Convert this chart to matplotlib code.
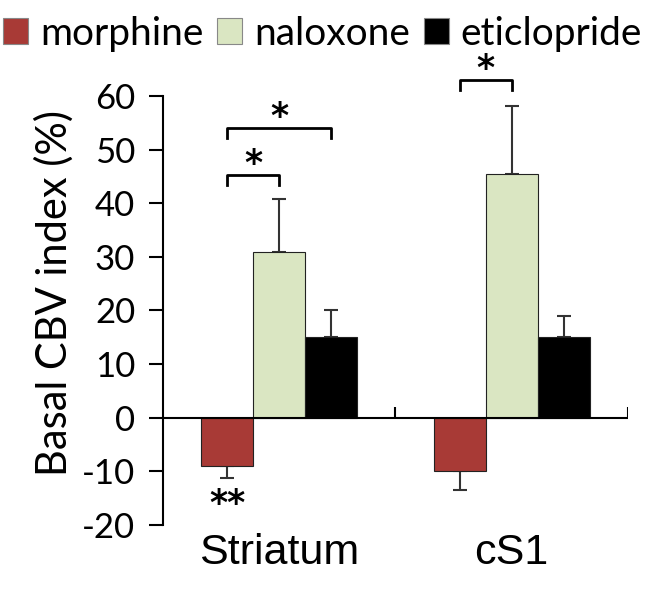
import matplotlib
matplotlib.use("Agg")
import matplotlib.pyplot as plt
from matplotlib.patches import Patch
import numpy as np

regions = ["Striatum", "cS1"]
series = ["morphine", "naloxone", "eticlopride"]
colors = ["#A83A36", "#DAE6C2", "#000000"]
values = {
    "morphine": [-9.0, -10.0],
    "naloxone": [31.0, 45.5],
    "eticlopride": [15.0, 15.0],
}
errors = {
    "morphine": [2.2, 3.5],
    "naloxone": [9.8, 12.7],
    "eticlopride": [5.0, 4.0],
}
yticks = [-20, -10, 0, 10, 20, 30, 40, 50, 60]

fig = plt.figure(figsize=(6.45, 5.89), dpi=100)
ax = fig.add_axes([0.2527, 0.1087, 0.9736 - 0.2527, 0.898 - 0.1087])
ax.set_xlim(0, 2)
ax.set_ylim(-20, 66.7)

centers = np.array([0.5, 1.5])
w = 0.224
offsets = [-w, 0, w]
for s, c, off in zip(series, colors, offsets):
    vals = np.array(values[s])
    errs = np.array(errors[s])
    ax.bar(centers + off, vals, width=w, color=c, edgecolor="#222222", linewidth=0.8, zorder=3)
    lower = np.where(vals < 0, errs, 0)
    upper = np.where(vals > 0, errs, 0)
    ax.errorbar(centers + off, vals, yerr=[lower, upper], fmt="none", ecolor="#333333",
                elinewidth=1.5, capsize=5, capthick=1.5, zorder=2)

# zero line with group separators
ax.axhline(0, color="black", lw=1.5, zorder=4)
ax.vlines([1, 2], 0, 2.0, color="black", lw=1.5, zorder=4)

for sp in ["top", "right", "bottom"]:
    ax.spines[sp].set_visible(False)
ax.spines["left"].set_bounds(-20, 60)
ax.spines["left"].set_linewidth(1.5)
ax.set_yticks(yticks)
ax.set_yticklabels([str(t) for t in yticks], fontfamily="Lato", fontsize=25)
ax.tick_params(axis="y", direction="out", length=10, width=1.5, pad=10)
ax.set_xticks(centers)
ax.set_xticklabels(regions, fontfamily="Liberation Sans", fontsize=31)
ax.tick_params(axis="x", length=0, pad=6)
ax.set_ylabel("Basal CBV index (%)", fontfamily="Lato", fontsize=30, labelpad=6)

def bracket(x1, x2, y, h, text):
    ax.plot([x1, x1, x2, x2], [y - h, y, y, y - h], color="black", lw=2, clip_on=False, zorder=5)
    ax.text((x1 + x2) / 2, y - 1.1, text, ha="center", va="bottom", fontsize=25,
            fontweight="bold", fontfamily="DejaVu Sans", clip_on=False)

x_m = centers - w
x_n = centers
x_e = centers + w
bracket(x_m[0], x_n[0], 45.3, 1.9, "*")
bracket(x_m[0], x_e[0], 54.0, 1.9, "*")
bracket(x_m[1], x_n[1], 63.0, 1.9, "*")
ax.text(x_m[0], -13.0, "**", ha="center", va="top", fontsize=25, fontweight="bold",
        fontfamily="DejaVu Sans")

handles = [Patch(facecolor=c, edgecolor="#888888", linewidth=0.8) for c in colors]
fig.legend(handles, series, loc="upper center", bbox_to_anchor=(0.5, 1.0), ncol=3,
           frameon=False, prop={"family": "Lato", "size": 28}, handlelength=0.65,
           handleheight=0.65, handletextpad=0.3, columnspacing=0.35, borderaxespad=0)

fig.savefig("out.png", dpi=100)
